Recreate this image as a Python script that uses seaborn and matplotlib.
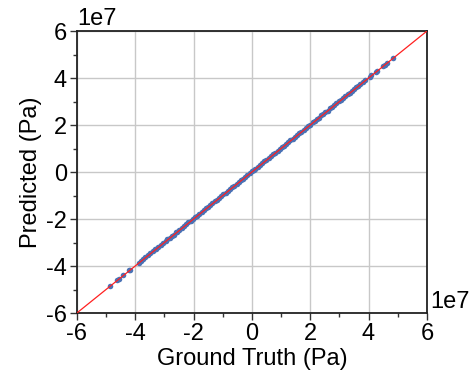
import matplotlib
matplotlib.use("Agg")
import matplotlib.pyplot as plt
import seaborn as sns
import pandas as pd
from matplotlib.ticker import MultipleLocator

# values in units of 1e7 Pa
ground_truth = [-4.85, -4.62, -4.57, -4.42, -4.22, -4.18, -3.88, -3.80, -3.72, -3.65, -3.55, -3.48,
                -3.40, -3.33, -3.30, -3.22, -3.12, -3.05, -2.95, -2.90, -2.82, -2.75, -2.68, -2.60,
                -2.55, -2.48, -2.40, -2.32, -2.25, -2.18, -2.10, -2.02, -1.95, -1.88, -1.80, -1.72,
                -1.65, -1.58, -1.50, -1.42, -1.35, -1.28, -1.20, -1.12, -1.05, -0.98, -0.90, -0.82,
                -0.75, -0.68, -0.60, -0.52, -0.45, -0.38, -0.30, -0.22, -0.15, -0.08, 0.00, 0.06,
                0.12, 0.20, 0.28, 0.35, 0.42, 0.50, 0.58, 0.65, 0.72, 0.80, 0.88, 0.95,
                1.02, 1.10, 1.18, 1.25, 1.32, 1.40, 1.48, 1.55, 1.62, 1.70, 1.78, 1.85,
                1.92, 2.00, 2.08, 2.15, 2.22, 2.30, 2.38, 2.45, 2.52, 2.60, 2.68, 2.75,
                2.82, 2.90, 2.98, 3.05, 3.12, 3.20, 3.28, 3.35, 3.42, 3.50, 3.58, 3.65,
                3.72, 3.80, 3.88, 4.05, 4.10, 4.25, 4.30, 4.48, 4.55, 4.62, 4.85]
predicted = [-4.83, -4.60, -4.55, -4.40, -4.17, -4.15, -3.86, -3.77, -3.70, -3.62, -3.53, -3.44,
             -3.37, -3.29, -3.28, -3.20, -3.10, -3.02, -2.92, -2.86, -2.80, -2.72, -2.66, -2.56,
             -2.53, -2.45, -2.38, -2.29, -2.23, -2.14, -2.08, -1.99, -1.93, -1.85, -1.78, -1.69,
             -1.63, -1.55, -1.48, -1.39, -1.33, -1.25, -1.18, -1.09, -1.03, -0.95, -0.88, -0.79,
             -0.73, -0.65, -0.58, -0.49, -0.43, -0.35, -0.28, -0.19, -0.13, -0.05, 0.03, 0.08,
             0.15, 0.22, 0.31, 0.37, 0.45, 0.52, 0.61, 0.67, 0.75, 0.82, 0.91, 0.97,
             1.05, 1.12, 1.21, 1.27, 1.35, 1.42, 1.51, 1.57, 1.65, 1.72, 1.81, 1.87,
             1.95, 2.02, 2.11, 2.17, 2.25, 2.32, 2.41, 2.47, 2.55, 2.62, 2.71, 2.77,
             2.85, 2.92, 3.01, 3.07, 3.15, 3.22, 3.31, 3.37, 3.45, 3.52, 3.61, 3.67,
             3.75, 3.82, 3.91, 4.06, 4.12, 4.27, 4.32, 4.50, 4.57, 4.64, 4.86]
axis_limits = [-6, 6]
ticks = [-6, -4, -2, 0, 2, 4, 6]

sns.set_style("ticks")
plt.rcParams['font.family'] = ['Liberation Sans', 'DejaVu Sans']
plt.rcParams['text.color'] = 'black'
plt.rcParams['axes.labelcolor'] = 'black'
plt.rcParams['xtick.labelcolor'] = 'black'
plt.rcParams['ytick.labelcolor'] = 'black'

df = pd.DataFrame({"Ground Truth": ground_truth, "Predicted": predicted})

fig = plt.figure(figsize=(4.77, 3.79), dpi=100)
ax = fig.add_axes([0.161, 0.174, 0.734, 0.744])

ax.grid(True, color="#c8c8c8", linewidth=1.0, zorder=0)
sns.scatterplot(data=df, x="Ground Truth", y="Predicted", ax=ax, s=16,
                color="#4a72b5", linewidth=0, zorder=2)
sns.lineplot(x=axis_limits, y=axis_limits, ax=ax, color="#ff2020", linewidth=0.9, zorder=3)

ax.set_xlim(axis_limits)
ax.set_ylim(axis_limits)
ax.set_xticks(ticks)
ax.set_yticks(ticks)
ax.set_xticklabels([str(t) for t in ticks])
ax.set_yticklabels([str(t) for t in ticks])
ax.xaxis.set_minor_locator(MultipleLocator(1))
ax.yaxis.set_minor_locator(MultipleLocator(1))
ax.tick_params(which="major", direction="out", length=5, width=1.0, labelsize=17, pad=2, color="#333333")
ax.tick_params(which="minor", direction="out", length=3, width=1.0, color="#333333")
for sp in ax.spines.values():
    sp.set_color("#222222")
    sp.set_linewidth(1.3)

ax.set_xlabel("Ground Truth (Pa)", fontsize=17, labelpad=2)
ax.set_ylabel("Predicted (Pa)", fontsize=17, labelpad=3)

ax.text(0.0, 1.005, "1e7", transform=ax.transAxes, ha="left", va="bottom", fontsize=17)
ax.text(1.01, 0.0, "1e7", transform=ax.transAxes, ha="left", va="bottom", fontsize=17)

fig.savefig("out.png", dpi=100)
